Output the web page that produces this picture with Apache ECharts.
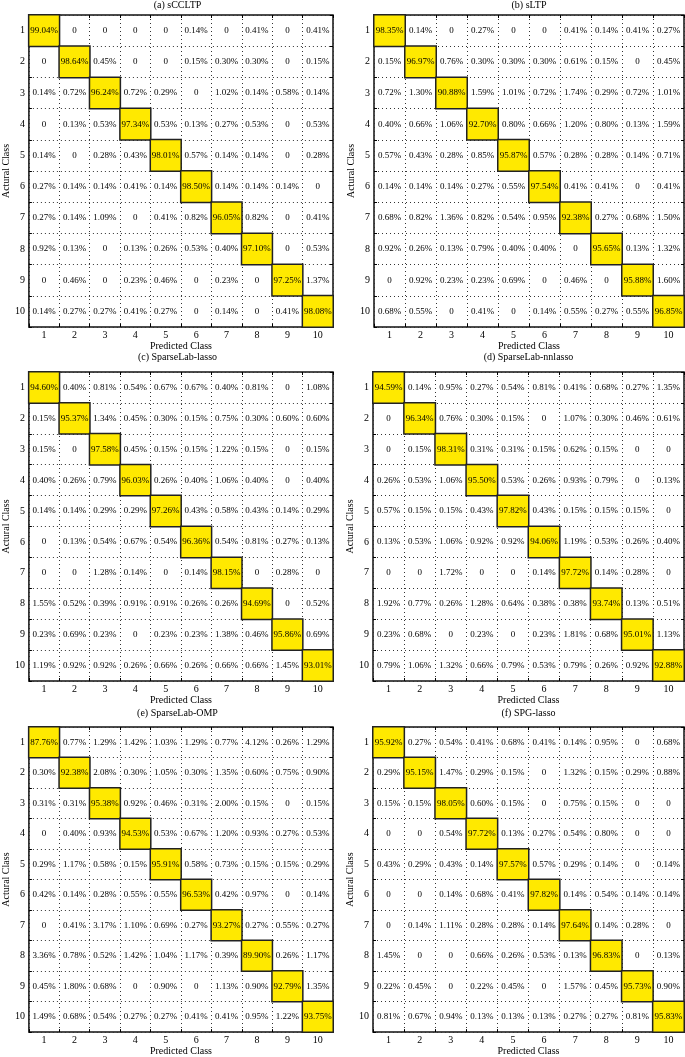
<!DOCTYPE html>
<html><head><meta charset="utf-8">
<script src="https://cdn.jsdelivr.net/npm/echarts@6/dist/echarts.min.js"></script>
<style>html,body{margin:0;padding:0;background:#fff}#c{width:685px;height:1057px}</style>
</head><body><div id="c"></div>
<script>
const classes = ['1','2','3','4','5','6','7','8','9','10'];
const titles = ['(a) sCCLTP','(b) sLTP','(c) SparseLab-lasso','(d) SparseLab-nnlasso','(e) SparseLab-OMP','(f) SPG-lasso'];
const xName = 'Predicted Class';
const yName = 'Actural Class';

const sCCLTP = [
 [99.04,0,0,0,0,0.14,0,0.41,0,0.41],
 [0,98.64,0.45,0,0,0.15,0.30,0.30,0,0.15],
 [0.14,0.72,96.24,0.72,0.29,0,1.02,0.14,0.58,0.14],
 [0,0.13,0.53,97.34,0.53,0.13,0.27,0.53,0,0.53],
 [0.14,0,0.28,0.43,98.01,0.57,0.14,0.14,0,0.28],
 [0.27,0.14,0.14,0.41,0.14,98.50,0.14,0.14,0.14,0],
 [0.27,0.14,1.09,0,0.41,0.82,96.05,0.82,0,0.41],
 [0.92,0.13,0,0.13,0.26,0.53,0.40,97.10,0,0.53],
 [0,0.46,0,0.23,0.46,0,0.23,0,97.25,1.37],
 [0.14,0.27,0.27,0.41,0.27,0,0.14,0,0.41,98.08]
];
const sLTP = [
 [98.35,0.14,0,0.27,0,0,0.41,0.14,0.41,0.27],
 [0.15,96.97,0.76,0.30,0.30,0.30,0.61,0.15,0,0.45],
 [0.72,1.30,90.88,1.59,1.01,0.72,1.74,0.29,0.72,1.01],
 [0.40,0.66,1.06,92.70,0.80,0.66,1.20,0.80,0.13,1.59],
 [0.57,0.43,0.28,0.85,95.87,0.57,0.28,0.28,0.14,0.71],
 [0.14,0.14,0.14,0.27,0.55,97.54,0.41,0.41,0,0.41],
 [0.68,0.82,1.36,0.82,0.54,0.95,92.38,0.27,0.68,1.50],
 [0.92,0.26,0.13,0.79,0.40,0.40,0,95.65,0.13,1.32],
 [0,0.92,0.23,0.23,0.69,0,0.46,0,95.88,1.60],
 [0.68,0.55,0,0.41,0,0.14,0.55,0.27,0.55,96.85]
];
const sparseLabLasso = [
 [94.60,0.40,0.81,0.54,0.67,0.67,0.40,0.81,0,1.08],
 [0.15,95.37,1.34,0.45,0.30,0.15,0.75,0.30,0.60,0.60],
 [0.15,0,97.58,0.45,0.15,0.15,1.22,0.15,0,0.15],
 [0.40,0.26,0.79,96.03,0.26,0.40,1.06,0.40,0,0.40],
 [0.14,0.14,0.29,0.29,97.26,0.43,0.58,0.43,0.14,0.29],
 [0,0.13,0.54,0.67,0.54,96.36,0.54,0.81,0.27,0.13],
 [0,0,1.28,0.14,0,0.14,98.15,0,0.28,0],
 [1.55,0.52,0.39,0.91,0.91,0.26,0.26,94.69,0,0.52],
 [0.23,0.69,0.23,0,0.23,0.23,1.38,0.46,95.86,0.69],
 [1.19,0.92,0.92,0.26,0.66,0.26,0.66,0.66,1.45,93.01]
];
const sparseLabNnlasso = [
 [94.59,0.14,0.95,0.27,0.54,0.81,0.41,0.68,0.27,1.35],
 [0,96.34,0.76,0.30,0.15,0,1.07,0.30,0.46,0.61],
 [0,0.15,98.31,0.31,0.31,0.15,0.62,0.15,0,0],
 [0.26,0.53,1.06,95.50,0.53,0.26,0.93,0.79,0,0.13],
 [0.57,0.15,0.15,0.43,97.82,0.43,0.15,0.15,0.15,0],
 [0.13,0.53,1.06,0.92,0.92,94.06,1.19,0.53,0.26,0.40],
 [0,0,1.72,0,0,0.14,97.72,0.14,0.28,0],
 [1.92,0.77,0.26,1.28,0.64,0.38,0.38,93.74,0.13,0.51],
 [0.23,0.68,0,0.23,0,0.23,1.81,0.68,95.01,1.13],
 [0.79,1.06,1.32,0.66,0.79,0.53,0.79,0.26,0.92,92.88]
];
const sparseLabOMP = [
 [87.76,0.77,1.29,1.42,1.03,1.29,0.77,4.12,0.26,1.29],
 [0.30,92.38,2.08,0.30,1.05,0.30,1.35,0.60,0.75,0.90],
 [0.31,0.31,95.38,0.92,0.46,0.31,2.00,0.15,0,0.15],
 [0,0.40,0.93,94.53,0.53,0.67,1.20,0.93,0.27,0.53],
 [0.29,1.17,0.58,0.15,95.91,0.58,0.73,0.15,0.15,0.29],
 [0.42,0.14,0.28,0.55,0.55,96.53,0.42,0.97,0,0.14],
 [0,0.41,3.17,1.10,0.69,0.27,93.27,0.27,0.55,0.27],
 [3.36,0.78,0.52,1.42,1.04,1.17,0.39,89.90,0.26,1.17],
 [0.45,1.80,0.68,0,0.90,0,1.13,0.90,92.79,1.35],
 [1.49,0.68,0.54,0.27,0.27,0.41,0.41,0.95,1.22,93.75]
];
const spgLasso = [
 [95.92,0.27,0.54,0.41,0.68,0.41,0.14,0.95,0,0.68],
 [0.29,95.15,1.47,0.29,0.15,0,1.32,0.15,0.29,0.88],
 [0.15,0.15,98.05,0.60,0.15,0,0.75,0.15,0,0],
 [0,0,0.54,97.72,0.13,0.27,0.54,0.80,0,0],
 [0.43,0.29,0.43,0.14,97.57,0.57,0.29,0.14,0,0.14],
 [0,0,0.14,0.68,0.41,97.82,0.14,0.54,0.14,0.14],
 [0,0.14,1.11,0.28,0.28,0.14,97.64,0.14,0.28,0],
 [1.45,0,0,0.66,0.26,0.53,0.13,96.83,0,0.13],
 [0.22,0.45,0,0.22,0.45,0,1.57,0.45,95.73,0.90],
 [0.81,0.67,0.94,0.13,0.13,0.13,0.27,0.27,0.81,95.83]
];

const matrices = [sCCLTP, sLTP, sparseLabLasso, sparseLabNnlasso, sparseLabOMP, spgLasso];

const FONT = '"Liberation Serif", "Times New Roman", serif';
const boxes = [
 {left:22, top:15, width:311, height:312},
 {left:374, top:15, width:310, height:312},
 {left:22, top:372, width:311, height:309},
 {left:373, top:372, width:311, height:309},
 {left:22, top:727, width:311, height:310},
 {left:373, top:727, width:311, height:310}
];
const titleY = [5, 5, 357, 357, 713, 713];

const grids = [], xAxes = [], yAxes = [], series = [], graphics = [];
const dotted = {color:'#333', width:1, type:[1,3]};
boxes.forEach((b, i) => {
  grids.push({left:b.left, top:b.top, width:b.width, height:b.height, show:true,
    borderColor:'#111', borderWidth:1.5, backgroundColor:'#fff'});
  xAxes.push({type:'category', gridIndex:i, data:classes, position:'bottom',
    axisLine:{show:false}, axisTick:{show:true, inside:true, length:3, lineStyle:{color:'#000'}},
    axisLabel:{fontFamily:FONT, fontSize:10, color:'#000', margin:3},
    splitLine:{show:true, lineStyle:dotted},
    name:xName, nameLocation:'middle', nameGap:13,
    nameTextStyle:{fontFamily:FONT, fontSize:10, color:'#000'}});
  xAxes.push({type:'category', gridIndex:i, data:classes, position:'top',
    axisLine:{show:false}, axisTick:{show:true, inside:true, length:3, lineStyle:{color:'#000'}},
    axisLabel:{show:false}, splitLine:{show:false}});
  yAxes.push({type:'category', gridIndex:i, data:classes, inverse:true, position:'left',
    axisLine:{show:false}, axisTick:{show:true, inside:true, length:3, lineStyle:{color:'#000'}},
    axisLabel:{fontFamily:FONT, fontSize:10, color:'#000', margin:4},
    splitLine:{show:true, lineStyle:dotted},
    name:yName, nameLocation:'middle', nameGap:13, nameRotate:90,
    nameTextStyle:{fontFamily:FONT, fontSize:10, color:'#000'}});
  yAxes.push({type:'category', gridIndex:i, data:classes, inverse:true, position:'right',
    axisLine:{show:false}, axisTick:{show:true, inside:true, length:3, lineStyle:{color:'#000'}},
    axisLabel:{show:false}, splitLine:{show:false}});
  const m = matrices[i];
  const items = [];
  for (let r = 0; r < m.length; r++) {
    for (let c = 0; c < m[r].length; c++) {
      const diag = r === c;
      items.push({value:[c, r, m[r][c]],
        itemStyle: diag ? {color:'#FFE900', borderColor:'#222', borderWidth:1.5}
                        : {color:'rgba(255,255,255,0)'}});
    }
  }
  series.push({type:'heatmap', xAxisIndex:2*i, yAxisIndex:2*i, data:items,
    label:{show:true, fontFamily:FONT, fontSize:9, color:'#000',
      formatter: p => p.value[2] === 0 ? '0' : p.value[2].toFixed(2) + '%'},
    emphasis:{disabled:true}, animation:false});
  graphics.push({type:'text', x:b.left + b.width/2, y:titleY[i],
    style:{text:titles[i], font:'10px ' + FONT, fill:'#000', textAlign:'center', textVerticalAlign:'middle'}});
});

const chart = echarts.init(document.getElementById('c'));
chart.setOption({
  animation:false,
  backgroundColor:'#fff',
  grid:grids, xAxis:xAxes, yAxis:yAxes, series:series, graphic:graphics
});
</script>
</body></html>
